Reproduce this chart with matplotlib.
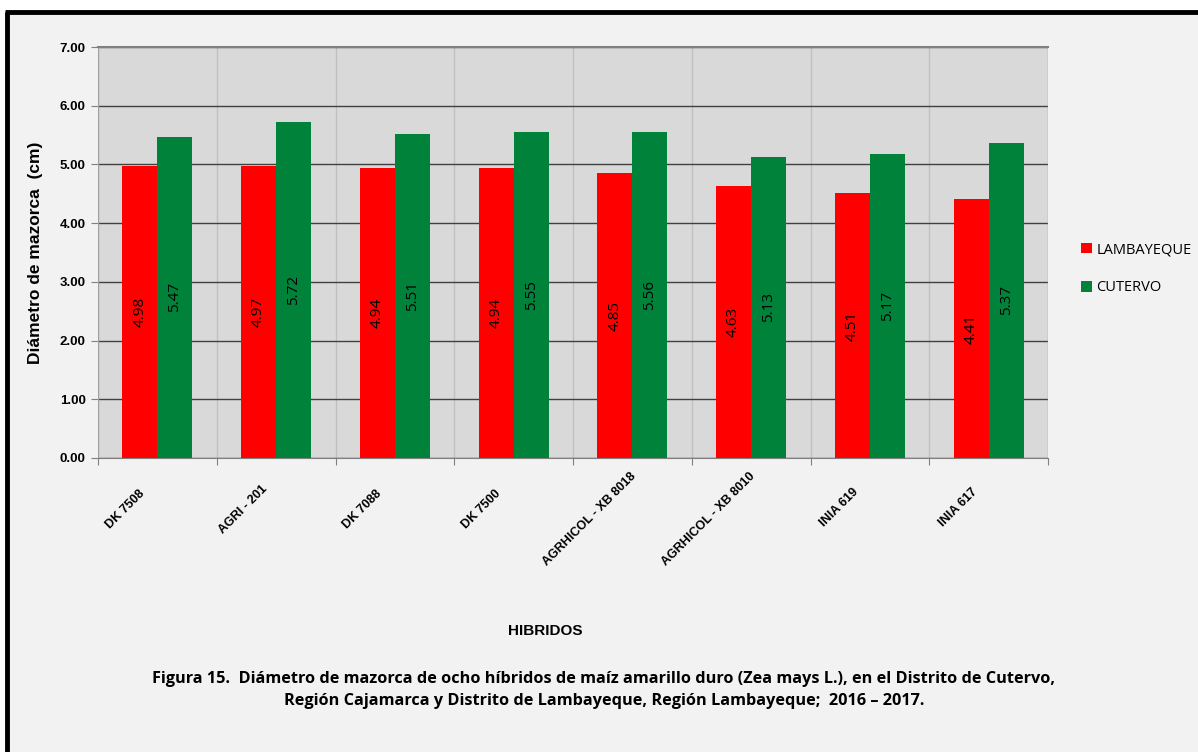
import matplotlib.pyplot as plt
import numpy as np
from matplotlib.patches import Rectangle
from matplotlib.lines import Line2D

hibridos = ["DK 7508", "AGRI - 201", "DK 7088", "DK 7500", "AGRHICOL - XB 8018",
            "AGRHICOL - XB 8010", "INIA 619", "INIA 617"]
lambayeque = [4.98, 4.97, 4.94, 4.94, 4.85, 4.63, 4.51, 4.41]
cutervo = [5.47, 5.72, 5.51, 5.55, 5.56, 5.13, 5.17, 5.37]
series_names = ["LAMBAYEQUE", "CUTERVO"]
yticks = [0, 1, 2, 3, 4, 5, 6, 7]

caption = ("Figura 15.  Diámetro de mazorca de ocho híbridos de maíz amarillo duro (Zea mays L.), en el Distrito de Cutervo,\n"
           "Región Cajamarca y Distrito de Lambayeque, Región Lambayeque;  2016 \u2013 2017.")

RED = "#ff0000"
GREEN = "#00823b"

fig = plt.figure(figsize=(11.98, 7.52), dpi=100)
fig.patch.set_facecolor("white")

# panel background and black frame (left + top only)
fig.patches.append(Rectangle((9 / 1198, 0), 1, 1 - 14 / 752, transform=fig.transFigure,
                             facecolor="#f2f2f2", edgecolor="none", zorder=-5))
fig.add_artist(Line2D([7 / 1198, 7 / 1198], [0, 1 - 12 / 752], transform=fig.transFigure,
                      color="black", lw=3.5, solid_capstyle="butt", zorder=-4))
fig.add_artist(Line2D([5 / 1198, 1], [1 - 12 / 752, 1 - 12 / 752], transform=fig.transFigure,
                      color="black", lw=3.5, solid_capstyle="butt", zorder=-4))

ax = fig.add_axes([98 / 1198, 1 - 458 / 752, 950 / 1198, 411 / 752])
ax.set_zorder(1)
ax.set_facecolor("#d9d9d9")

x = np.arange(len(hibridos))
w = 0.295
b1 = ax.bar(x - w / 2, lambayeque, w, color=RED, label=series_names[0], zorder=3)
b2 = ax.bar(x + w / 2, cutervo, w, color=GREEN, label=series_names[1], zorder=3)

for bars, vals in ((b1, lambayeque), (b2, cutervo)):
    for r, v in zip(bars, vals):
        ax.text(r.get_x() + r.get_width() / 2, v / 2, f"{v:.2f}", rotation=90,
                ha="center", va="center", fontsize=11, family="Open Sans",
                color="black", zorder=4)

ax.set_xlim(-0.5, len(hibridos) - 0.5)
ax.set_ylim(0, 7)
ax.set_yticks(yticks)
ax.set_yticklabels([f"{v:.2f}" for v in yticks], fontsize=9.5, fontweight="bold",
                   family="Liberation Sans")
ax.yaxis.grid(True, color="#404040", lw=1.0, zorder=1)
for b in np.arange(0.5, len(hibridos) - 0.5, 1):
    ax.axvline(b, color="#c0c0c0", lw=1.0, zorder=1)

# category boundary ticks; rotated names drawn as annotations
# (longer names sit a bit higher/right, like Excel does)
ax.set_xticks(np.arange(-0.5, len(hibridos), 1))
ax.set_xticklabels([])
for xi, name in zip(x, hibridos):
    extra = len(name) - 7
    dx_px = -19 + 1.5 * extra
    dy_px = -(30 - 1.6 * extra)
    ax.annotate(name, (xi, 0), xycoords=("data", "axes fraction"),
                xytext=(dx_px * 0.72, dy_px * 0.72), textcoords="offset points",
                rotation=45, ha="right", va="top", rotation_mode="anchor",
                fontsize=9, fontweight="bold", family="Liberation Sans",
                annotation_clip=False)
ax.tick_params(axis="x", length=5, color="#808080")
ax.tick_params(axis="y", length=5, color="#808080", pad=4)

for s in ("left", "right"):
    ax.spines[s].set_visible(False)
ax.spines["bottom"].set_color("#808080")
ax.spines["top"].set_color("#808080")
ax.spines["top"].set_linewidth(1.5)
ax.axvline(-0.5, color="#a0a0a0", lw=1.0, zorder=2)
ax.axvline(len(hibridos) - 0.5, color="#a0a0a0", lw=1.0, zorder=2)

ax.set_ylabel("Diámetro de mazorca  (cm)", fontsize=12.5, fontweight="bold",
              family="Liberation Sans", labelpad=12)

leg = fig.legend(handles=[b1, b2], loc="upper left", bbox_to_anchor=(1068 / 1198, 1 - 229 / 752),
                 frameon=False, handlelength=0.75, handleheight=0.75, handletextpad=0.3,
                 labelspacing=1.6, prop={"family": "Open Sans", "size": 10.5})

fig.text(545 / 1198, 1 - 631 / 752, "HIBRIDOS", ha="center", va="center",
         fontsize=11, fontweight="bold", family="Liberation Sans")
fig.text(604 / 1198, 1 - 690 / 752, caption, ha="center", va="center",
         fontsize=11.7, fontweight="bold", family="Open Sans",
         linespacing=1.55)

fig.savefig("out.png", dpi=100, facecolor=fig.get_facecolor())
